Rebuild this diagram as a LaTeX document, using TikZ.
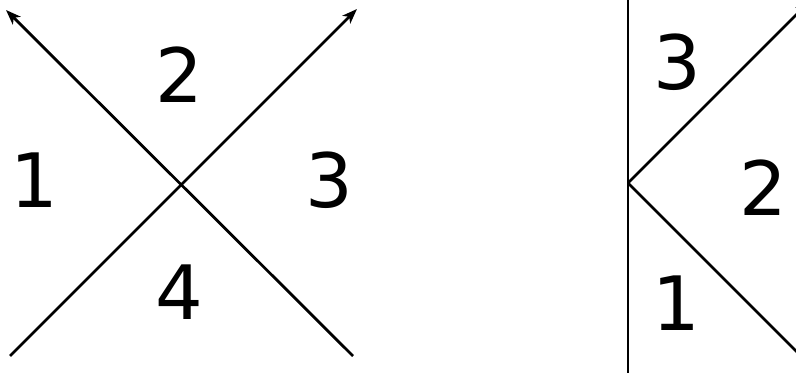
\documentclass[tikz,border=0pt]{standalone}
\usepackage{fontspec}
\setmainfont{DejaVu Sans}
\usetikzlibrary{arrows.meta}
\tikzset{
    region/.style={font=\fontsize{75}{80}\selectfont, inner sep=0pt},
    ray/.style={line width=2.8pt, -{Stealth[length=15pt, width=11pt, inset=4pt]}},
    wall/.style={line width=2.8pt}
}
\begin{document}
\begin{tikzpicture}[x=1pt, y=-1pt]
    \useasboundingbox (0,0) rectangle (796,379);
    \clip (0,0) rectangle (796,379);

    % left: two crossing lines
    \coordinate (xc) at (181,183);
    \coordinate (bl) at (10,356);
    \coordinate (br) at (353,356);
    \coordinate (tl) at (6,10);
    \coordinate (tr) at (357,9);
    \draw[ray] (bl) -- (tr);
    \draw[ray] (br) -- (tl);
    \foreach \n/\x/\y in {1/34/180, 2/179/75, 3/329/180, 4/179/292}
        {\node[region] (l\n) at (\x,\y) {\n};}

    % right: wall and wedge
    \coordinate (kc) at (628,183);
    \coordinate (wt) at (628,-5);
    \coordinate (wb) at (628,373);
    \coordinate (kt) at (810,1);
    \coordinate (kb) at (810,365);
    \draw[wall] (wt) -- (wb);
    \draw[ray] (kc) -- (kt);
    \draw[wall] (kc) -- (kb);
    \foreach \n/\x/\y in {3/677/62, 2/763/188, 1/676/303}
        {\node[region] (r\n) at (\x,\y) {\n};}
\end{tikzpicture}
\end{document}
